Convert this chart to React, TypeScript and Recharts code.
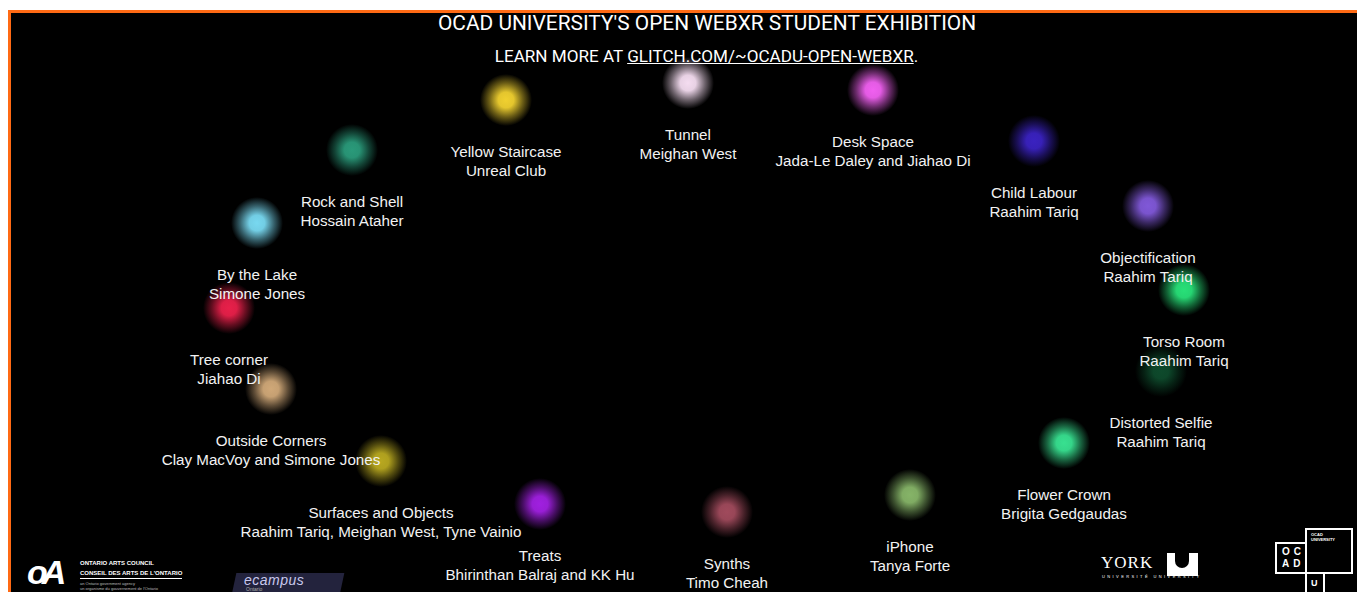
import { ScatterChart, Scatter, XAxis, YAxis } from "recharts";

// artworks in the gallery, positions (px-like units)
const titles = [
  "Rock and Shell",
  "By the Lake",
  "Tree corner",
  "Outside Corners",
  "Surfaces and Objects",
  "Treats",
  "Synths",
  "iPhone",
  "Flower Crown",
  "Distorted Selfie",
  "Torso Room",
  "Objectification",
  "Child Labour",
  "Desk Space",
  "Tunnel",
  "Yellow Staircase",
];

const artists = [
  "Hossain Ataher",
  "Simone Jones",
  "Jiahao Di",
  "Clay MacVoy and Simone Jones",
  "Raahim Tariq, Meighan West, Tyne Vainio",
  "Bhirinthan Balraj and KK Hu",
  "Timo Cheah",
  "Tanya Forte",
  "Brigita Gedgaudas",
  "Raahim Tariq",
  "Raahim Tariq",
  "Raahim Tariq",
  "Raahim Tariq",
  "Jada-Le Daley and Jiahao Di",
  "Meighan West",
  "Unreal Club",
];

const posX = [352, 257, 229, 271, 381, 540, 727, 910, 1064, 1161, 1184, 1148, 1034, 873, 688, 506];
const posY = [150, 223, 308, 389, 461, 504, 512, 495, 443, 371, 290, 206, 141, 90, 83, 100];

const dotColors = [
  "#2a9a7a",
  "#78d8f0",
  "#e8204a",
  "#d0a878",
  "#b8a820",
  "#a020e0",
  "#a04a5c",
  "#86b468",
  "#38e090",
  "#0e4a2c",
  "#28e078",
  "#8058d8",
  "#3a22c0",
  "#f060f0",
  "#f4dcf0",
  "#f0d030",
];

const artworks = titles.map((t, i) => ({
  id: i,
  x: posX[i],
  y: posY[i],
  title: t,
  artist: artists[i],
  color: dotColors[i],
}));

const GlowDot = (props: any) => {
  const { cx, cy, payload } = props;
  const gid = `glow-${payload.id}`;
  return (
    <g>
      <defs>
        <radialGradient id={gid}>
          <stop offset="0%" stopColor={payload.color} stopOpacity={1} />
          <stop offset="30%" stopColor={payload.color} stopOpacity={0.95} />
          <stop offset="65%" stopColor={payload.color} stopOpacity={0.45} />
          <stop offset="100%" stopColor={payload.color} stopOpacity={0} />
        </radialGradient>
      </defs>
      <circle cx={cx} cy={cy} r={26} fill={`url(#${gid})`} />
    </g>
  );
};

const ArtLabel = (props: any) => {
  const { cx, cy, payload } = props;
  const style = { fontFamily: "'Liberation Sans', Arial, sans-serif", fontSize: 15.2, fill: "#f2f2f2" };
  return (
    <g>
      <text x={cx} y={cy + 53} textAnchor="middle" dominantBaseline="middle" style={style}>
        {payload.title}
      </text>
      <text x={cx} y={cy + 72} textAnchor="middle" dominantBaseline="middle" style={style}>
        {payload.artist}
      </text>
    </g>
  );
};

function Logos() {
  const tiny = { fontFamily: "'Liberation Sans', Arial, sans-serif", color: "#fff", position: "absolute" as const, whiteSpace: "nowrap" as const };
  return (
    <>
      {/* Ontario Arts Council */}
      <div style={{ ...tiny, left: 27, top: 552, fontSize: 34, fontWeight: 700, fontStyle: "italic", letterSpacing: -6, lineHeight: "40px" }}>oA</div>
      <div style={{ ...tiny, left: 80, top: 560, fontSize: 6, fontWeight: 700, lineHeight: "7px" }}>ONTARIO ARTS COUNCIL</div>
      <div style={{ ...tiny, left: 80, top: 570, fontSize: 6, fontWeight: 700, lineHeight: "7px", borderBottom: "1px solid #fff", paddingBottom: 1 }}>
        CONSEIL DES ARTS DE L'ONTARIO
      </div>
      <div style={{ ...tiny, left: 80, top: 581, fontSize: 4, lineHeight: "5px", color: "#bbb" }}>an Ontario government agency</div>
      <div style={{ ...tiny, left: 80, top: 586, fontSize: 4, lineHeight: "5px", color: "#bbb" }}>un organisme du gouvernement de l'Ontario</div>
      {/* eCampus Ontario */}
      <div
        style={{
          position: "absolute",
          left: 234,
          top: 573,
          width: 108,
          height: 22,
          background: "#23233d",
          transform: "skewX(-12deg)",
        }}
      />
      <div style={{ ...tiny, left: 244, top: 573, fontSize: 14, lineHeight: "14px", fontStyle: "italic", color: "#c9c9ee", letterSpacing: 0.5 }}>ecampus</div>
      <div style={{ ...tiny, left: 246, top: 587, fontSize: 5, lineHeight: "5px", color: "#aaa" }}>Ontario</div>
      {/* York U */}
      <div style={{ ...tiny, left: 1101, top: 553, fontSize: 17, lineHeight: "20px", fontFamily: "'Liberation Serif', serif", letterSpacing: 1 }}>YORK</div>
      <div style={{ ...tiny, left: 1102, top: 574, fontSize: 4, lineHeight: "5px", letterSpacing: 2.4 }}>UNIVERSITÉ UNIVERSITY</div>
      <div style={{ position: "absolute", left: 1167, top: 553, width: 31, height: 23, background: "#fff" }}>
        <div style={{ position: "absolute", left: 8, top: 0, width: 14, height: 15, background: "#000", borderRadius: "0 0 7px 7px" }} />
      </div>
      {/* OCAD U */}
      <div style={{ position: "absolute", left: 1305, top: 528, width: 48, height: 46, border: "2px solid #fff", boxSizing: "border-box" }} />
      <div style={{ position: "absolute", left: 1275, top: 542, width: 32, height: 32, border: "2px solid #fff", boxSizing: "border-box" }} />
      <div style={{ position: "absolute", left: 1305, top: 572, width: 20, height: 24, border: "2px solid #fff", boxSizing: "border-box" }} />
      <div style={{ ...tiny, left: 1282, top: 546, fontSize: 10, fontWeight: 700, letterSpacing: 4, lineHeight: "12px" }}>
        OC
        <br />
        AD
      </div>
      <div style={{ ...tiny, left: 1311, top: 532, fontSize: 4, fontWeight: 700, lineHeight: "5px" }}>
        OCAD
        <br />
        UNIVERSITY
      </div>
      <div style={{ ...tiny, left: 1311, top: 578, fontSize: 9, lineHeight: "10px", fontWeight: 700 }}>U</div>
    </>
  );
}

export default function App() {
  return (
    <div style={{ position: "absolute", left: 0, top: 0, width: 1357, height: 592, background: "#fff", overflow: "hidden" }}>
      <div
        style={{
          position: "absolute",
          left: 8,
          top: 10,
          width: 1360,
          height: 590,
          background: "#000",
          borderLeft: "3px solid #ff6a14",
          borderTop: "3px solid #ff6a14",
          boxSizing: "border-box",
        }}
      />
      <ScatterChart width={1357} height={592} margin={{ top: 0, right: 0, bottom: 0, left: 0 }} style={{ position: "absolute", left: 0, top: 0 }}>
        <XAxis type="number" dataKey="x" domain={[0, 1357]} hide />
        <YAxis type="number" dataKey="y" domain={[0, 592]} reversed hide />
        <Scatter data={artworks} shape={GlowDot} isAnimationActive={false} />
        <Scatter data={artworks} shape={ArtLabel} isAnimationActive={false} />
      </ScatterChart>
      <div
        style={{
          position: "absolute",
          left: 0,
          width: 1414,
          top: 9,
          textAlign: "center",
          color: "#fff",
          fontFamily: "Roboto, sans-serif",
          fontSize: 20.9,
          lineHeight: "28px",
        }}
      >
        OCAD UNIVERSITY'S OPEN WEBXR STUDENT EXHIBITION
      </div>
      <div
        style={{
          position: "absolute",
          left: 0,
          width: 1413,
          top: 44,
          textAlign: "center",
          color: "#fff",
          fontFamily: "Roboto, sans-serif",
          fontSize: 17.1,
          lineHeight: "24px",
        }}
      >
        LEARN MORE AT <span style={{ textDecoration: "underline" }}>GLITCH.COM/~OCADU-OPEN-WEBXR</span>.
      </div>
      <Logos />
    </div>
  );
}
